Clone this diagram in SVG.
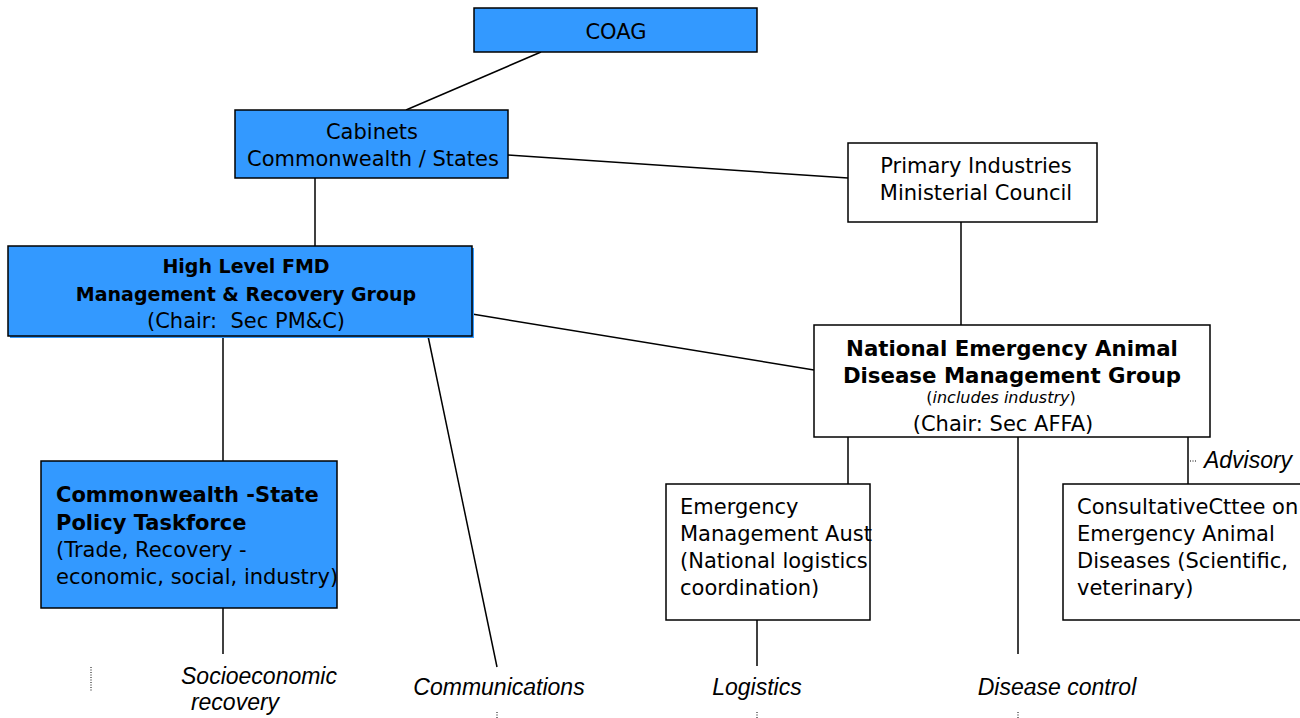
<svg xmlns="http://www.w3.org/2000/svg" width="1300" height="718" viewBox="0 0 1300 718">
<style>
.blue{fill:#3399ff;stroke:#000;stroke-width:1.5}
.white{fill:#fff;stroke:#000;stroke-width:1.5}
.t{font-family:"DejaVu Sans","Liberation Sans",sans-serif;font-size:21px;fill:#000}
.c{text-anchor:middle}
.b{font-weight:bold}
.s19{font-size:19px}
.s21{font-size:21.3px}
.s16{font-size:16px}
.lbl{font-family:"Liberation Sans Narrow","Liberation Sans",sans-serif;font-style:italic;font-size:23px;fill:#000;text-anchor:middle}
.con line{stroke:#000;stroke-width:1.5}
.dot{stroke:#000;stroke-width:1;stroke-dasharray:1 1.5}
</style>
<rect width="1300" height="718" fill="#fff"/>
<g class="con" id="connectors">
<line x1="541" y1="52" x2="406" y2="110"/>
<line x1="508" y1="155" x2="848" y2="178"/>
<line x1="961" y1="222" x2="961" y2="325"/>
<line x1="315" y1="178" x2="315" y2="246"/>
<line x1="472" y1="314" x2="814" y2="370"/>
<line x1="223" y1="336" x2="223" y2="461"/>
<line x1="223" y1="608" x2="223" y2="654"/>
<line x1="428" y1="336" x2="497" y2="667"/>
<line x1="848" y1="437" x2="848" y2="484"/>
<line x1="757" y1="620" x2="757" y2="666"/>
<line x1="1018" y1="437" x2="1018" y2="654"/>
<line x1="1188" y1="437" x2="1188" y2="484"/>
</g>
<g id="dots">
<line class="dot" x1="91" y1="667" x2="91" y2="691"/>
<line class="dot" x1="497" y1="712" x2="497" y2="718"/>
<line class="dot" x1="757" y1="712" x2="757" y2="718"/>
<line class="dot" x1="1018" y1="712" x2="1018" y2="718"/>
<line class="dot" x1="1190" y1="461" x2="1197" y2="461"/>
</g>
<g id="coag">
<rect class="blue" x="474" y="8" width="283" height="44"/>
<text class="t c" x="616" y="39">COAG</text>
</g>
<g id="cabinets">
<rect class="blue" x="235" y="110" width="273" height="68"/>
<text class="t c" x="372" y="139">Cabinets</text>
<text class="t c" x="373" y="166">Commonwealth / States</text>
</g>
<g id="pimc">
<rect class="white" x="848" y="143" width="249" height="79"/>
<text class="t c" x="976" y="173">Primary Industries</text>
<text class="t c" x="976" y="200">Ministerial Council</text>
</g>
<g id="highlevel">
<rect x="10" y="248" width="464" height="90" fill="#3399ff"/>
<rect class="blue" x="8" y="246" width="464" height="90"/>
<text class="t c b s19" x="246" y="273">High Level FMD</text>
<text class="t c b s19" x="246" y="301">Management &amp; Recovery Group</text>
<text class="t c" x="246" y="328" xml:space="preserve">(Chair:  Sec PM&amp;C)</text>
</g>
<g id="neadmg">
<rect class="white" x="814" y="325" width="396" height="112"/>
<text class="t c b s21" x="1012" y="356">National Emergency Animal</text>
<text class="t c b s21" x="1012" y="383">Disease Management Group</text>
<text class="t c s16" x="1001" y="403">(<tspan font-style="italic">includes industry</tspan>)</text>
<text class="t c" x="1003" y="431">(Chair: Sec AFFA)</text>
</g>
<g id="taskforce">
<rect class="blue" x="41" y="461" width="296" height="147"/>
<text class="t b" x="56" y="502">Commonwealth -State</text>
<text class="t b" x="56" y="530">Policy Taskforce</text>
<text class="t" x="56" y="557">(Trade, Recovery -</text>
<text class="t" x="56" y="584">economic, social, industry)</text>
</g>
<g id="ema">
<rect class="white" x="666" y="484" width="204" height="136"/>
<text class="t" x="680" y="514">Emergency</text>
<text class="t" x="680" y="541">Management Aust</text>
<text class="t" x="680" y="568">(National logistics</text>
<text class="t" x="680" y="595">coordination)</text>
</g>
<g id="ccead">
<rect class="white" x="1063" y="484" width="245" height="136"/>
<text class="t" x="1077" y="514">ConsultativeCttee on</text>
<text class="t" x="1077" y="541">Emergency Animal</text>
<text class="t" x="1077" y="568">Diseases (Scientific,</text>
<text class="t" x="1077" y="595">veterinary)</text>
</g>
<g id="labels">
<text class="lbl" x="1248" y="468">Advisory</text>
<text class="lbl" x="259" y="684">Socioeconomic</text>
<text class="lbl" x="235" y="710">recovery</text>
<text class="lbl" x="499" y="695">Communications</text>
<text class="lbl" x="757" y="695">Logistics</text>
<text class="lbl" x="1057" y="695">Disease control</text>
</g>
</svg>
